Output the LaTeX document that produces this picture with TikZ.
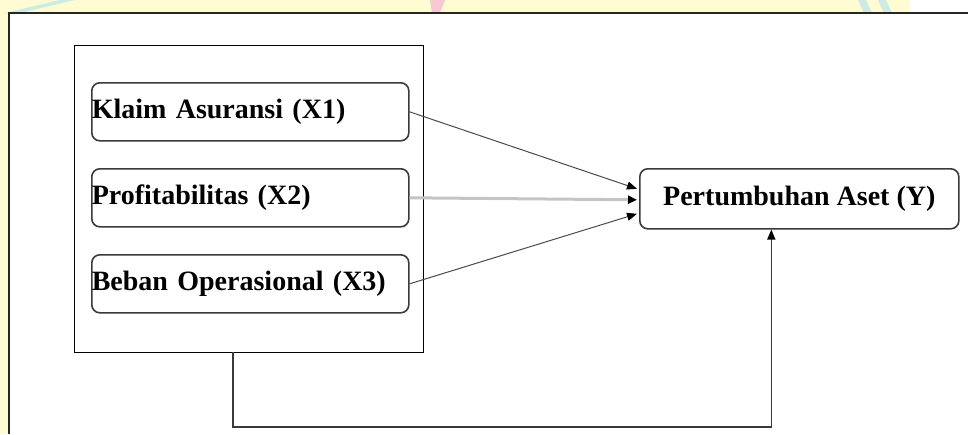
\documentclass[tikz,border=0pt]{standalone}
\usepackage{fontspec}
\setmainfont{Liberation Serif}
\usetikzlibrary{arrows.meta,calc}
\definecolor{wmyellow}{HTML}{FFFBD2}
\definecolor{wmcyan}{HTML}{CDEBE4}
\definecolor{wmpink}{HTML}{F8C8D0}
\definecolor{boxline}{HTML}{3A3A3A}
\definecolor{linkline}{HTML}{4A4A4A}
\definecolor{lightlink}{HTML}{C4C4C4}
\tikzset{
  varbox/.style={draw=boxline, line width=1.6pt, rounded corners=8pt, fill=white,
    minimum height=58pt, text width=317pt, inner xsep=0pt, inner ysep=0pt, align=left,
    font=\fontsize{28}{30}\selectfont\bfseries},
  ybox/.style={draw=boxline, line width=1.6pt, rounded corners=8pt, fill=white,
    minimum height=60pt, minimum width=319pt, inner sep=0pt,
    font=\fontsize{28}{30}\selectfont\bfseries},
  groupbox/.style={draw=black, line width=1.3pt},
  link/.style={draw=linkline, line width=1pt, -{Triangle[length=10pt,width=8pt,color=black]}},
  lightarrow/.style={draw=lightlink, line width=3pt, -{Triangle[length=9pt,width=8pt,color=black]}},
  feedback/.style={draw=boxline, line width=1.6pt, -{Triangle[length=10pt,width=8pt,color=black]}},
  frameline/.style={draw=black!85, line width=2pt}
}
\begin{document}
\begin{tikzpicture}[x=1pt,y=-1pt]
\useasboundingbox (0,0) rectangle (968,434);
% watermark-tinted background and white panel
\fill[wmyellow] (0,0) rectangle (968,434);
\fill[wmcyan] (60,0) -- (75,0) -- (20,13) -- (5,13) -- cycle;
\fill[wmpink] (430,0) -- (445,0) -- (440,13) -- (432,13) -- cycle;
\fill[wmcyan] (858,0) -- (866,0) -- (872,13) -- (864,13) -- cycle;
\fill[wmcyan] (878,0) -- (886,0) -- (892,13) -- (884,13) -- cycle;
\fill[white] (910,0) rectangle (968,13);
\fill[white] (9,13) rectangle (968,434);
\draw[frameline] (9,434) -- (9,13) -- (968,13);
% group rectangle
\node[groupbox, minimum width=349pt, minimum height=307pt, inner sep=0pt, anchor=north west] (grp) at (74,45) {};
% variable boxes
\node[varbox, anchor=north west] (x1) at (91,82) {Klaim Asuransi (X1)};
\node[varbox, anchor=north west] (x2) at (91,168) {Profitabilitas (X2)};
\node[varbox, anchor=north west] (x3) at (91,254) {Beban Operasional (X3)};
\node[ybox, anchor=north west] (y) at (639,168) {Pertumbuhan Aset (Y)};
% arrow targets
\coordinate (t1) at ($(y.west)+(-2,-10)$);
\coordinate (t2) at ($(y.west)+(-2,1)$);
\coordinate (t3) at ($(y.west)+(-2,15)$);
\draw[link] (x1.east) -- (t1);
\draw[lightarrow] (x2.east) -- (t2);
\draw[link] (x3.east) -- (t3);
% feedback connector
\coordinate (gb) at (233,352);
\coordinate (bc) at (233,427);
\coordinate (yb) at ($(y.south)+(-28,0)$);
\draw[feedback] (gb) -- (bc) -| (yb);
\end{tikzpicture}
\end{document}
